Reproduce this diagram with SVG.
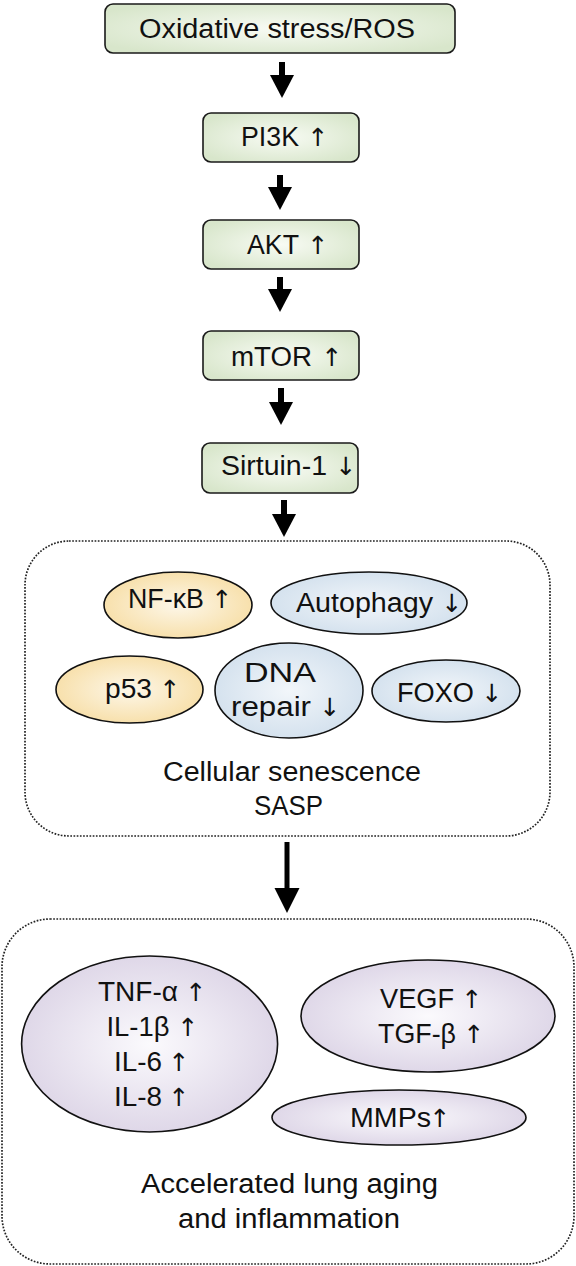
<svg xmlns="http://www.w3.org/2000/svg" width="576" height="1266" viewBox="0 0 576 1266">
<style>
text{font-family:"Liberation Sans",Arial,sans-serif;font-size:27px;fill:#111;text-anchor:middle}
text.w{text-anchor:start}
text.ar{font-family:"DejaVu Sans",sans-serif;font-size:25px;text-anchor:middle}
.box{fill:url(#gGreen);stroke:#1a1a1a;stroke-width:1.6}
.org{fill:url(#gOrange);stroke:#111;stroke-width:1.6}
.blu{fill:url(#gBlue);stroke:#111;stroke-width:1.6}
.pur{fill:url(#gPurple);stroke:#111;stroke-width:1.6}
.dot{fill:none;stroke:#222;stroke-width:1.7;stroke-dasharray:1.7 1.5}
.shaft{stroke:#000;stroke-width:6;fill:none}
</style>
<defs>
<radialGradient id="gGreen" cx="50%" cy="50%" r="60%"><stop offset="0" stop-color="#f8fbf4"/><stop offset="1" stop-color="#d8e6cb"/></radialGradient>
<radialGradient id="gOrange" cx="50%" cy="50%" r="55%"><stop offset="0" stop-color="#fdf7e9"/><stop offset="1" stop-color="#f7dea6"/></radialGradient>
<radialGradient id="gBlue" cx="50%" cy="50%" r="55%"><stop offset="0" stop-color="#f2f6fa"/><stop offset="1" stop-color="#d2e0ed"/></radialGradient>
<radialGradient id="gPurple" cx="50%" cy="50%" r="55%"><stop offset="0" stop-color="#fbfafd"/><stop offset="1" stop-color="#dcd4e6"/></radialGradient>
<marker id="ah" markerUnits="userSpaceOnUse" markerWidth="24" markerHeight="26" viewBox="0 -13 24 26" refX="1" refY="0" orient="auto"><path d="M0,-12 L23,0 L0,12 z" fill="#000"/></marker>
<marker id="ahBig" markerUnits="userSpaceOnUse" markerWidth="26" markerHeight="28" viewBox="0 -14 26 28" refX="1" refY="0" orient="auto"><path d="M0,-12.5 L25,0 L0,12.5 z" fill="#000"/></marker>
</defs>

<g id="connectors">
<line class="shaft" x1="282" y1="62" x2="282" y2="76" marker-end="url(#ah)"/>
<line class="shaft" x1="280" y1="175" x2="280" y2="188" marker-end="url(#ah)"/>
<line class="shaft" x1="280" y1="277" x2="280" y2="290" marker-end="url(#ah)"/>
<line class="shaft" x1="281" y1="388" x2="281" y2="403" marker-end="url(#ah)"/>
<line class="shaft" x1="284" y1="500" x2="284" y2="515" marker-end="url(#ah)"/>
<line class="shaft" style="stroke-width:5" x1="287" y1="842" x2="287" y2="889" marker-end="url(#ahBig)"/>
</g>

<g id="n_ros"><rect class="box" x="105" y="4" width="350" height="49" rx="8"/><text x="277" y="37.5" textLength="276" lengthAdjust="spacingAndGlyphs">Oxidative stress/ROS</text></g>
<g id="n_pi3k"><rect class="box" x="203" y="113" width="156" height="49" rx="8"/><text class="w" x="241" y="145.5" textLength="58" lengthAdjust="spacingAndGlyphs">PI3K</text><text class="ar" x="318" y="145.5">↑</text></g>
<g id="n_akt"><rect class="box" x="203" y="220" width="156" height="49" rx="8"/><text class="w" x="247" y="253.5" textLength="52" lengthAdjust="spacingAndGlyphs">AKT</text><text class="ar" x="318" y="253.5">↑</text></g>
<g id="n_mtor"><rect class="box" x="203" y="331" width="156" height="49" rx="8"/><text class="w" x="231" y="365.5" textLength="81" lengthAdjust="spacingAndGlyphs">mTOR</text><text class="ar" x="332" y="365.5">↑</text></g>
<g id="n_sirt"><rect class="box" x="202" y="443" width="156" height="50" rx="8"/><text class="w" x="221" y="474.5" textLength="106" lengthAdjust="spacingAndGlyphs">Sirtuin-1</text><text class="ar" x="346" y="474.5">↓</text></g>

<g id="g_senescence">
<rect class="dot" x="25" y="541" width="525" height="295" rx="44"/>
<text x="292" y="781" textLength="258" lengthAdjust="spacingAndGlyphs">Cellular senescence</text>
<text x="288.5" y="815" textLength="69" lengthAdjust="spacingAndGlyphs">SASP</text>
</g>
<g id="n_nfkb"><ellipse class="org" cx="178" cy="605" rx="74" ry="33"/><text class="w" x="128" y="607.5" textLength="76" lengthAdjust="spacingAndGlyphs">NF-κB</text><text class="ar" x="222" y="607.5">↑</text></g>
<g id="n_autophagy"><ellipse class="blu" cx="369" cy="603" rx="98" ry="31"/><text class="w" x="296" y="611.5" textLength="137" lengthAdjust="spacingAndGlyphs">Autophagy</text><text class="ar" x="452" y="611.5">↓</text></g>
<g id="n_p53"><ellipse class="org" cx="129.5" cy="689.5" rx="73.5" ry="33.5"/><text class="w" x="105" y="697.5" textLength="47" lengthAdjust="spacingAndGlyphs">p53</text><text class="ar" x="170" y="697.5">↑</text></g>
<g id="n_dna"><ellipse class="blu" cx="289" cy="690.5" rx="74" ry="47.5"/><text x="280" y="682" textLength="72" lengthAdjust="spacingAndGlyphs">DNA</text><text class="w" x="231" y="715.5" textLength="80" lengthAdjust="spacingAndGlyphs">repair</text><text class="ar" x="330" y="715.5">↓</text></g>
<g id="n_foxo"><ellipse class="blu" cx="446" cy="691" rx="74" ry="31"/><text class="w" x="397" y="702" textLength="77" lengthAdjust="spacingAndGlyphs">FOXO</text><text class="ar" x="492" y="702">↓</text></g>

<g id="g_aging">
<rect class="dot" x="2" y="919" width="572" height="345" rx="48"/>
<text x="289.5" y="1193" textLength="297" lengthAdjust="spacingAndGlyphs">Accelerated lung aging</text>
<text x="289" y="1228" textLength="222" lengthAdjust="spacingAndGlyphs">and inflammation</text>
</g>
<g id="n_cytokines"><ellipse class="pur" cx="149.6" cy="1044" rx="128" ry="88"/>
<text class="w" x="98" y="1001" textLength="80" lengthAdjust="spacingAndGlyphs">TNF-α</text><text class="ar" x="196" y="1001">↑</text>
<text class="w" x="106.5" y="1035.5" textLength="63" lengthAdjust="spacingAndGlyphs">IL-1β</text><text class="ar" x="188" y="1035.5">↑</text>
<text class="w" x="114" y="1071" textLength="48" lengthAdjust="spacingAndGlyphs">IL-6</text><text class="ar" x="179" y="1071">↑</text>
<text class="w" x="114" y="1106" textLength="48" lengthAdjust="spacingAndGlyphs">IL-8</text><text class="ar" x="179" y="1106">↑</text></g>
<g id="n_vegf"><ellipse class="pur" cx="428" cy="1016" rx="127" ry="56"/>
<text class="w" x="380" y="1008" textLength="74" lengthAdjust="spacingAndGlyphs">VEGF</text><text class="ar" x="472" y="1008">↑</text>
<text class="w" x="378" y="1043" textLength="78" lengthAdjust="spacingAndGlyphs">TGF-β</text><text class="ar" x="474" y="1043">↑</text></g>
<g id="n_mmps"><ellipse class="pur" cx="399" cy="1117.5" rx="127" ry="27.5"/><text class="w" x="350" y="1127" textLength="81" lengthAdjust="spacingAndGlyphs">MMPs</text><text class="ar" x="440" y="1127">↑</text></g>
</svg>
